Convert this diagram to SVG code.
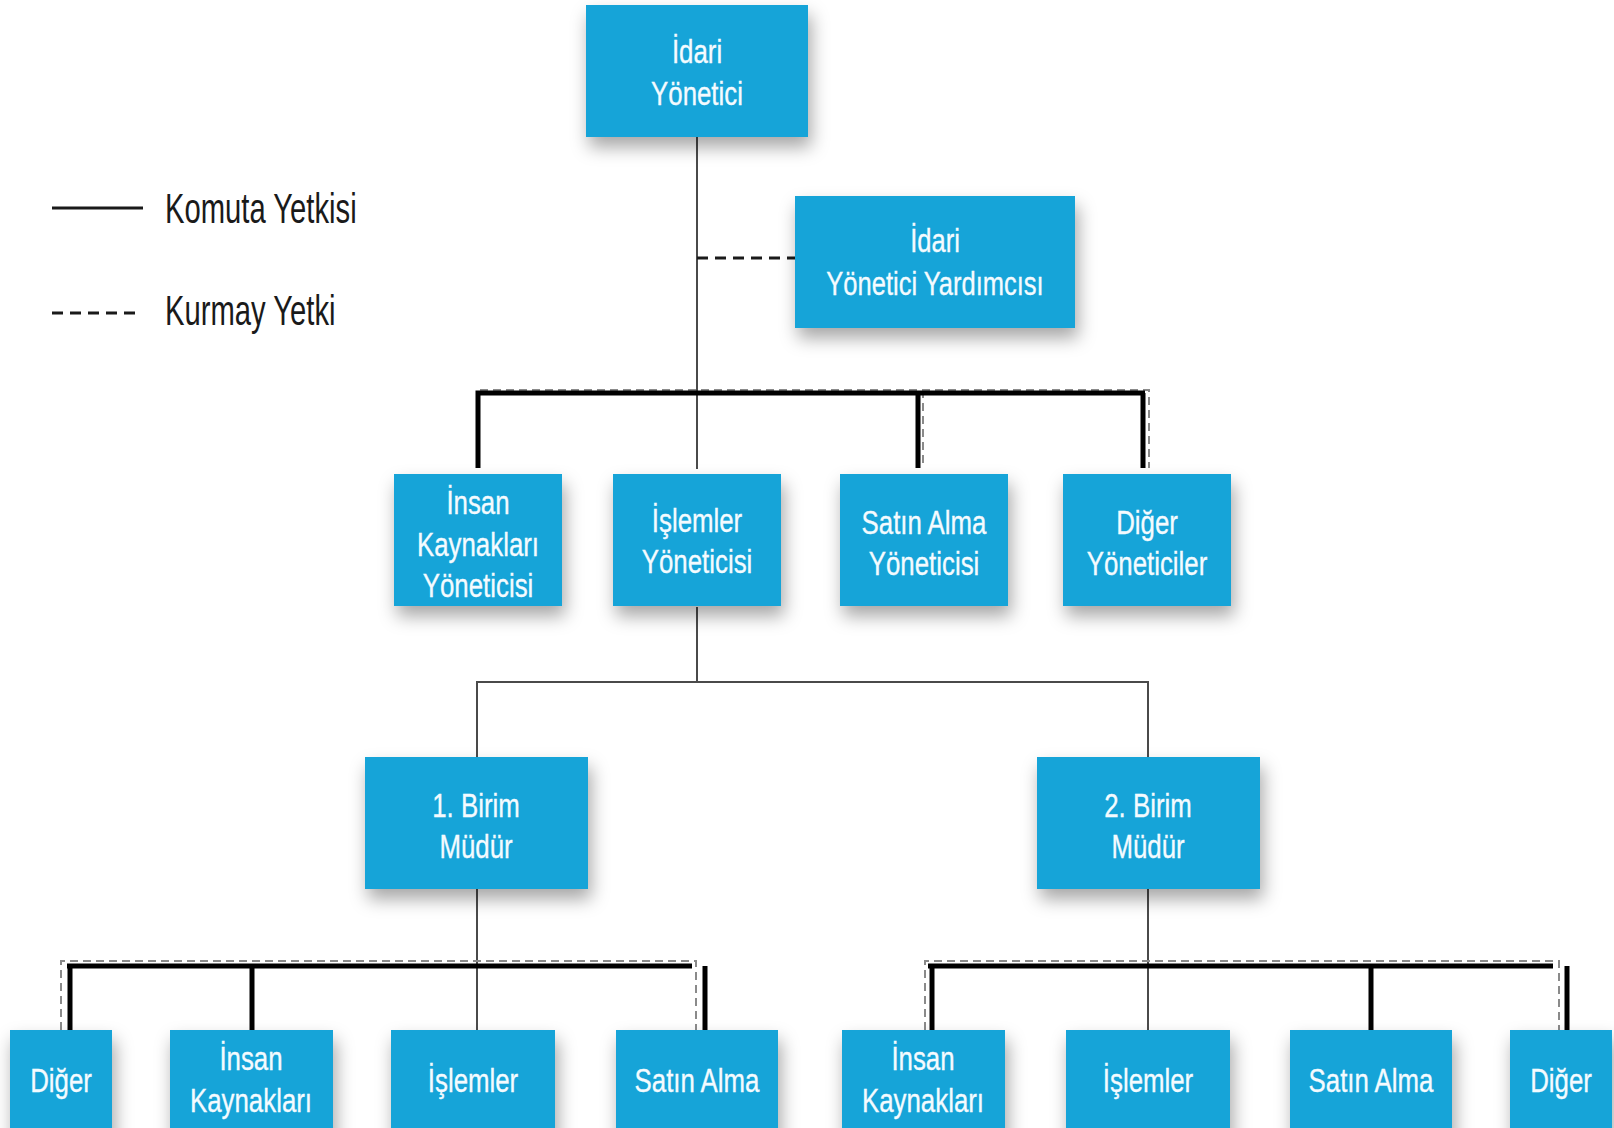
<svg xmlns="http://www.w3.org/2000/svg" width="1614" height="1128" viewBox="0 0 1614 1128">
<style>
.box{fill:#12a4d8;filter:url(#sh)}
.t{font-family:"Liberation Sans",Arial,sans-serif;font-size:34px;fill:#f4fbff;stroke:#f4fbff;stroke-width:0.35;text-anchor:middle}
.lg{font-family:"Liberation Sans",Arial,sans-serif;font-size:43px;fill:#1a1a1a}
.thin{stroke:#4a4a4a;stroke-width:2;fill:none}
.thick{stroke:#000;stroke-width:5;fill:none}
.dash{stroke:#8a8a8a;stroke-width:2;fill:none;stroke-dasharray:8 5}
.kd{stroke:#1a1a1a;stroke-width:3;fill:none;stroke-dasharray:11 7}
</style>
<defs>
<filter id="sh" x="-30%" y="-30%" width="160%" height="170%">
<feDropShadow dx="3" dy="10" stdDeviation="9" flood-color="#000" flood-opacity="0.35"/>
</filter>
</defs>
<rect width="1614" height="1128" fill="#fff"/>

<g id="legend">
<line x1="52" y1="208" x2="143" y2="208" stroke="#1a1a1a" stroke-width="3"/>
<text class="lg" transform="translate(165,223) scale(0.68,1)">Komuta Yetkisi</text>
<line x1="52" y1="313" x2="135" y2="313" class="kd" stroke-width="2.5"/>
<text class="lg" transform="translate(165,325) scale(0.68,1)">Kurmay Yetki</text>
</g>

<g id="connectors">
<line class="thin" x1="697" y1="137" x2="697" y2="469"/>
<line class="kd" x1="697" y1="258" x2="795" y2="258"/>
<path class="dash" d="M480 390 H1149 V468 M923 390 V468"/>
<path class="thick" d="M478 468 V393 H1145 M918 393 V468 M1143 393 V468"/>
<path class="thin" d="M697 607 V682 M477 757 V682 H1148 V757"/>
<line class="thin" x1="477" y1="889" x2="477" y2="1030"/>
<line class="thin" x1="1148" y1="889" x2="1148" y2="1030"/>
<path class="dash" d="M61 1030 V961 H696 V1030"/>
<path class="thick" d="M67 966 H692 M70 966 V1041 M252 966 V1041 M705 966 V1041"/>
<path class="dash" d="M925 1030 V961 H1559 V1030"/>
<path class="thick" d="M928 966 H1553 M932 966 V1041 M1371 966 V1041 M1567 966 V1041"/>
</g>

<g id="idari-yonetici">
<rect class="box" x="586" y="5" width="222" height="132"/>
<text class="t" transform="translate(697,63) scale(0.76,1)">İdari</text>
<text class="t" transform="translate(697,105) scale(0.76,1)">Yönetici</text>
</g>
<g id="idari-yonetici-yardimcisi">
<rect class="box" x="795" y="196" width="280" height="132"/>
<text class="t" transform="translate(935,252) scale(0.75,1)">İdari</text>
<text class="t" transform="translate(935,295) scale(0.75,1)">Yönetici Yardımcısı</text>
</g>

<g id="insan-kaynaklari-yoneticisi">
<rect class="box" x="394" y="474" width="168" height="132"/>
<text class="t" transform="translate(478,514) scale(0.76,1)">İnsan</text>
<text class="t" transform="translate(478,556) scale(0.76,1)">Kaynakları</text>
<text class="t" transform="translate(478,597) scale(0.76,1)">Yöneticisi</text>
</g>
<g id="islemler-yoneticisi">
<rect class="box" x="613" y="474" width="168" height="132"/>
<text class="t" transform="translate(697,532) scale(0.76,1)">İşlemler</text>
<text class="t" transform="translate(697,573) scale(0.76,1)">Yöneticisi</text>
</g>
<g id="satin-alma-yoneticisi">
<rect class="box" x="840" y="474" width="168" height="132"/>
<text class="t" transform="translate(924,534) scale(0.76,1)">Satın Alma</text>
<text class="t" transform="translate(924,575) scale(0.76,1)">Yöneticisi</text>
</g>
<g id="diger-yoneticiler">
<rect class="box" x="1063" y="474" width="168" height="132"/>
<text class="t" transform="translate(1147,534) scale(0.76,1)">Diğer</text>
<text class="t" transform="translate(1147,575) scale(0.76,1)">Yöneticiler</text>
</g>

<g id="birim-1-mudur">
<rect class="box" x="365" y="757" width="223" height="132"/>
<text class="t" transform="translate(476,817) scale(0.76,1)">1. Birim</text>
<text class="t" transform="translate(476,858) scale(0.76,1)">Müdür</text>
</g>
<g id="birim-2-mudur">
<rect class="box" x="1037" y="757" width="223" height="132"/>
<text class="t" transform="translate(1148,817) scale(0.76,1)">2. Birim</text>
<text class="t" transform="translate(1148,858) scale(0.76,1)">Müdür</text>
</g>

<g id="b1-diger">
<rect class="box" x="10" y="1030" width="102" height="110"/>
<text class="t" transform="translate(61,1092) scale(0.76,1)">Diğer</text>
</g>
<g id="b1-insan-kaynaklari">
<rect class="box" x="170" y="1030" width="163" height="110"/>
<text class="t" transform="translate(251,1070) scale(0.76,1)">İnsan</text>
<text class="t" transform="translate(251,1112) scale(0.76,1)">Kaynakları</text>
</g>
<g id="b1-islemler">
<rect class="box" x="391" y="1030" width="164" height="110"/>
<text class="t" transform="translate(473,1092) scale(0.76,1)">İşlemler</text>
</g>
<g id="b1-satin-alma">
<rect class="box" x="616" y="1030" width="162" height="110"/>
<text class="t" transform="translate(697,1092) scale(0.76,1)">Satın Alma</text>
</g>
<g id="b2-insan-kaynaklari">
<rect class="box" x="842" y="1030" width="163" height="110"/>
<text class="t" transform="translate(923,1070) scale(0.76,1)">İnsan</text>
<text class="t" transform="translate(923,1112) scale(0.76,1)">Kaynakları</text>
</g>
<g id="b2-islemler">
<rect class="box" x="1066" y="1030" width="164" height="110"/>
<text class="t" transform="translate(1148,1092) scale(0.76,1)">İşlemler</text>
</g>
<g id="b2-satin-alma">
<rect class="box" x="1290" y="1030" width="162" height="110"/>
<text class="t" transform="translate(1371,1092) scale(0.76,1)">Satın Alma</text>
</g>
<g id="b2-diger">
<rect class="box" x="1510" y="1030" width="102" height="110"/>
<text class="t" transform="translate(1561,1092) scale(0.76,1)">Diğer</text>
</g>
</svg>
